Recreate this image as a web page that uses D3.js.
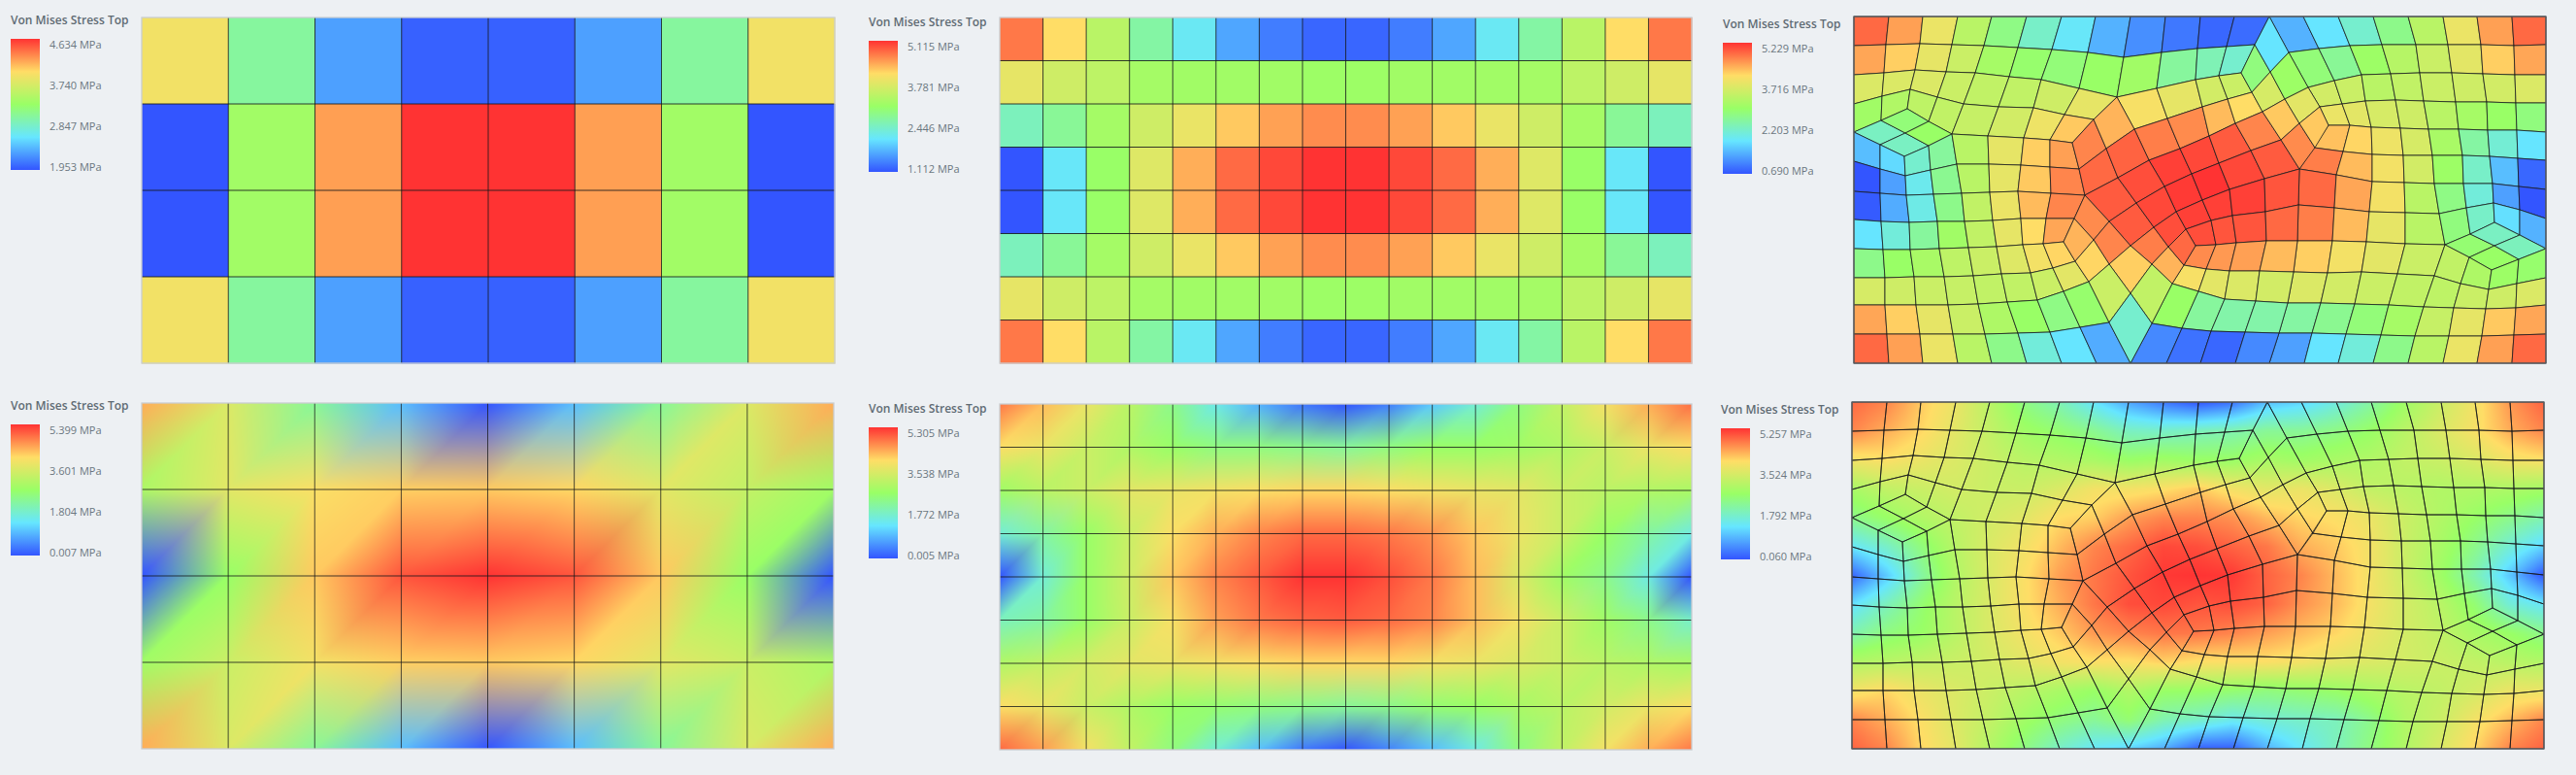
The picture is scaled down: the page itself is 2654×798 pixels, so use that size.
<!DOCTYPE html>
<html><head><meta charset="utf-8">
<script src="https://cdn.jsdelivr.net/npm/d3@7"></script>
<style>html,body{margin:0;padding:0;background:#edf0f3}svg{display:block}</style>
</head><body><div id="chart"></div>
<script>
// ---------- legend tick labels ----------
const ticks1 = ["4.634 MPa","3.740 MPa","2.847 MPa","1.953 MPa"];
const ticks2 = ["5.115 MPa","3.781 MPa","2.446 MPa","1.112 MPa"];
const ticks3 = ["5.229 MPa","3.716 MPa","2.203 MPa","0.690 MPa"];
const ticks4 = ["5.399 MPa","3.601 MPa","1.804 MPa","0.007 MPa"];
const ticks5 = ["5.305 MPa","3.538 MPa","1.772 MPa","0.005 MPa"];
const ticks6 = ["5.257 MPa","3.524 MPa","1.792 MPa","0.060 MPa"];
const legendTitle = "Von Mises Stress Top";
const rampColors = ["#3355ff","#66e6ff","#99ff66","#ffdd66","#ff3333"];

// ---------- panel 1: 8 x 4 element values (MPa) ----------
const cells1 = [
 [3.88,3.05,2.30,2.01,2.01,2.30,3.05,3.88],
 [1.953,3.35,4.21,4.634,4.634,4.21,3.35,1.953],
 [1.953,3.35,4.21,4.634,4.634,4.21,3.35,1.953],
 [3.88,3.05,2.30,2.01,2.01,2.30,3.05,3.88]];
// ---------- panel 2: 16 x 8 element values (MPa) ----------
const cells2 = [
 [4.71,4.11,3.43,2.71,2.19,1.67,1.39,1.23,1.23,1.39,1.67,2.19,2.71,3.43,4.11,4.71],
 [3.87,3.63,3.47,3.23,3.19,3.19,3.19,3.15,3.15,3.19,3.19,3.19,3.23,3.47,3.63,3.87],
 [2.55,2.79,3.23,3.63,3.91,4.23,4.47,4.59,4.59,4.47,4.23,3.91,3.63,3.23,2.79,2.55],
 [1.112,2.15,3.11,3.79,4.39,4.79,4.99,5.115,5.115,4.99,4.79,4.39,3.79,3.11,2.15,1.112],
 [1.112,2.15,3.11,3.79,4.39,4.79,4.99,5.115,5.115,4.99,4.79,4.39,3.79,3.11,2.15,1.112],
 [2.55,2.79,3.23,3.63,3.91,4.23,4.47,4.59,4.59,4.47,4.23,3.91,3.63,3.23,2.79,2.55],
 [3.87,3.63,3.47,3.23,3.19,3.19,3.19,3.15,3.15,3.19,3.19,3.19,3.23,3.47,3.63,3.87],
 [4.71,4.11,3.43,2.71,2.19,1.67,1.39,1.23,1.23,1.39,1.67,2.19,2.71,3.43,4.11,4.71]];
// ---------- panel 4: 9 x 5 nodal values (MPa) ----------
const nodes4 = [
 [4.43,3.57,2.27,0.98,0.007,0.98,2.27,3.57,4.43],
 [2.97,3.67,3.99,4.16,4.21,4.10,3.67,3.24,2.81],
 [0.007,2.70,4.21,5.13,5.399,5.13,4.21,2.70,0.007],
 [2.81,3.35,3.89,4.16,4.21,4.10,3.67,3.35,2.97],
 [4.43,3.57,2.27,0.98,0.007,0.98,2.27,3.57,4.43]];
// ---------- panel 5: 17 x 9 nodal values (MPa) ----------
const nodes5 = [
 [4.77,4.24,3.71,3.08,2.34,1.54,0.85,0.32,0.005,0.38,1.06,1.70,2.44,3.18,3.82,4.35,4.83],
 [3.93,3.71,3.29,2.97,2.65,2.44,2.44,2.34,2.23,2.44,2.65,2.65,2.76,2.97,3.29,3.71,3.93],
 [2.76,3.08,3.29,3.61,3.71,3.82,3.93,4.03,4.03,3.93,3.82,3.71,3.61,3.29,3.08,2.97,2.87],
 [1.70,2.12,2.65,3.29,3.93,4.35,4.67,4.88,4.88,4.77,4.56,4.14,3.71,3.29,2.65,2.12,1.59],
 [0.005,1.70,2.65,3.34,4.14,4.67,4.99,5.305,5.305,5.09,4.77,4.24,3.50,2.76,2.34,1.59,0.005],
 [1.91,2.12,2.65,3.29,3.87,4.46,4.77,4.93,4.99,4.88,4.67,4.24,3.82,3.29,2.76,2.34,1.81],
 [2.97,3.18,3.40,3.61,3.71,3.82,3.93,4.03,4.03,4.03,3.82,3.71,3.50,3.29,3.08,2.97,2.87],
 [3.93,3.71,3.29,2.97,2.65,2.55,2.44,2.34,2.23,2.34,2.55,2.65,2.87,3.08,3.40,3.71,3.93],
 [4.88,4.46,3.82,3.18,2.44,1.70,0.96,0.32,0.005,0.43,0.96,1.59,2.44,3.18,3.82,4.35,4.77]];
// ---------- panel 6: stress read on a regular 21 x 13 sampling of the plate (MPa) ----------
const field6 = [
 [4.84,4.63,4.11,3.70,3.07,2.40,1.98,1.36,0.79,0.37,0.06,0.32,1.00,1.20,1.62,2.14,2.76,3.28,3.80,4.48,4.89],
 [4.63,4.32,4.01,3.59,3.18,2.76,2.55,2.29,1.88,1.83,1.93,2.03,2.24,2.24,2.40,2.66,3.07,3.49,3.85,4.32,4.63],
 [3.80,3.91,3.70,3.49,3.28,3.07,2.97,2.87,2.66,2.76,2.66,2.66,2.87,2.76,2.87,2.97,3.18,3.28,3.49,3.80,3.91],
 [2.87,3.18,3.28,3.39,3.28,3.28,3.49,3.80,3.80,3.91,4.11,3.80,3.59,3.70,3.49,3.18,3.07,2.97,2.97,2.92,2.81],
 [2.35,2.66,2.97,3.18,3.39,3.59,3.96,4.06,4.43,4.63,4.63,4.53,4.22,4.01,3.91,3.70,3.28,2.97,2.66,2.35,2.03],
 [1.41,1.83,2.45,3.07,3.49,3.80,4.22,4.63,4.84,5.10,5.05,4.89,4.74,4.32,4.11,3.80,3.28,2.87,2.35,1.72,1.20],
 [0.22,1.10,2.14,2.97,3.49,3.91,4.43,4.74,5.00,5.21,5.257,5.21,4.89,4.63,4.22,3.80,3.28,2.76,2.03,1.10,0.06],
 [1.31,1.93,2.55,3.07,3.49,3.91,4.32,4.74,5.05,5.10,5.00,5.05,4.89,4.53,4.22,3.80,3.39,3.07,2.55,1.72,1.41],
 [2.03,2.45,2.66,3.07,3.49,3.80,4.11,4.48,4.63,4.74,4.74,4.63,4.43,4.22,4.01,3.70,3.39,3.18,2.87,2.66,2.35],
 [2.97,3.07,3.18,3.28,3.39,3.59,3.80,3.91,3.91,4.06,3.91,3.91,3.91,3.80,3.59,3.49,3.39,3.28,3.18,3.07,2.97],
 [3.80,4.01,3.70,3.49,3.28,3.07,2.87,2.66,2.97,2.66,2.66,2.55,2.45,2.55,2.66,2.87,3.07,3.18,3.39,3.70,3.70],
 [4.63,4.32,3.91,3.49,3.18,2.76,2.45,2.24,2.55,2.03,1.83,1.52,1.72,1.83,1.93,2.35,2.97,3.28,3.80,4.22,4.63],
 [4.89,4.63,4.01,3.59,2.97,2.40,1.83,1.41,1.20,0.84,0.16,0.16,0.89,1.41,1.93,2.45,2.97,3.49,4.01,4.63,4.89]];

// ---------- irregular mesh (panels 3 and 6): structured patches of plate nodes, plate size 713 x 357 ----------
const plateSize = [713,357];
const patchA = [
 [[0,0],[36,0],[71,0],[107,0],[142,0],[178,0],[214,0],[249,0],[285,0],[321,0],[357,0],[392,0],[428,0]],
 [[0,30],[33,29],[68,28],[101,29],[134,30],[169,32],[204,34],[241,37],[278,42],[317,37],[354,33],[384,31],[413,29]],
 [[0,60],[31,58],[63,55],[95,57],[125,58],[160,62],[193,65],[232,74],[271,83],[312,74],[352,65],[376,61],[399,58]]];
const stressA = [
 [4.87,4.50,3.87,3.32,2.73,2.23,1.87,1.42,1.14,0.96,0.83,0.87],
 [4.46,4.19,3.82,3.50,3.10,2.91,2.82,2.96,3.05,2.55,2.37,2.19]];
const patchB = [
 [[428,0],[463,0],[499,0],[535,0],[571,0],[607,0],[642,0],[678,0],[713,0]],
 [[448,37],[479,33],[511,30],[544,29],[579,29],[612,29],[646,29],[680,30],[713,29]],
 [[468,73],[495,66],[523,60],[553,59],[583,58],[616,58],[648,59],[681,60],[713,60]],
 [[480,93],[503,90],[527,87],[558,86],[587,87],[620,88],[652,88],[682,89],[713,89]],
 [[489,112],[511,112],[533,114],[563,115],[592,116],[623,116],[653,117],[683,117],[713,119]],
 [[474,135],[504,139],[534,142],[566,143],[596,143],[627,143],[655,144],[684,146],[713,148]],
 [[459,157],[497,163],[534,170],[567,171],[598,172],[628,172],[658,172],[685,175],[713,178]],
 [[458,194],[495,197],[531,201],[568,202],[603,203],[631,197],[659,192],[686,199],[713,208]],
 [[457,231],[493,231],[528,232],[568,234],[609,235],[635,224],[660,212],[686,225],[713,239]]];
const stressB = [
 [1.42,1.82,2.19,2.69,3.32,3.87,4.50,4.87],
 [2.82,2.60,3.00,3.28,3.50,3.78,4.19,4.46],
 [3.59,3.50,3.32,3.41,3.50,3.55,3.59,3.69],
 [3.87,3.78,3.64,3.55,3.32,3.10,2.96,2.78],
 [4.28,4.14,3.91,3.64,3.14,2.51,2.14,1.82],
 [4.73,4.32,3.96,3.59,3.00,2.23,1.51,0.83],
 [4.87,4.46,3.96,3.32,2.73,2.10,1.28,0.69],
 [4.73,4.32,3.82,3.32,2.78,2.23,1.78,1.42]];
const patchRightDiamond = [
 [[609,235],[635,224],[660,212]],
 [[634,248],[660,236],[686,225]],
 [[657,261],[685,250],[713,239]]];
const stressRightDiamond = [[2.87,2.28],[2.96,2.32]];
const patchLowerRight = [
 [[457,231],[493,231],[528,232],[568,234],[609,235],[634,248],[657,261],[685,250],[713,239]],
 [[453,263],[488,264],[523,263],[560,265],[598,267],[625,275],[654,281],[683,275],[713,269]],
 [[447,295],[481,295],[516,296],[551,297],[587,299],[618,300],[651,301],[682,300],[713,297]],
 [[438,326],[472,326],[507,327],[543,328],[578,329],[613,329],[647,329],[680,328],[713,327]],
 [[428,357],[464,357],[499,357],[535,357],[571,357],[607,357],[642,357],[678,357],[713,357]]];
const stressLowerRight = [
 [4.19,3.96,3.78,3.50,3.41,3.19,3.00,2.91],
 [3.69,3.59,3.50,3.41,3.37,3.50,3.55,3.69],
 [2.51,2.64,2.82,3.10,3.46,3.82,4.23,4.46],
 [1.28,1.82,2.10,2.69,3.32,3.87,4.50,4.87]];
const patchC = [
 [[271,83],[312,74],[352,65],[376,61],[399,58]],
 [[289,116],[323,105],[359,93],[385,85],[410,78]],
 [[304,148],[336,136],[366,123],[393,110],[421,98]],
 [[320,175],[348,162],[376,151],[409,138],[440,127]],
 [[332,201],[359,189],[387,178],[423,167],[459,157]],
 [[342,219],[368,210],[390,205],[424,201],[458,194]],
 [[352,236],[373,235],[394,233],[425,231],[457,231]],
 [[340,256],[363,260],[387,262],[418,262],[453,263]],
 [[328,275],[355,283],[382,291],[414,293],[447,295]],
 [[307,316],[338,321],[368,324],[403,325],[438,326]],
 [[285,357],[322,357],[357,357],[393,357],[428,357]]];
const stressC = [
 [4.00,3.82,3.59,3.50],
 [4.73,4.64,4.32,4.09],
 [5.14,5.09,4.96,4.68],
 [5.18,5.229,5.09,4.96],
 [5.14,5.14,5.14,5.00],
 [5.05,5.00,5.00,4.87],
 [4.64,4.55,4.50,4.32],
 [4.00,3.78,3.69,3.59],
 [2.96,2.55,2.46,2.46],
 [1.10,0.92,0.83,1.10]];
const patchD = [
 [[399,58],[410,78],[421,98],[440,127],[459,157]],
 [[413,29],[429,57],[444,85],[459,110],[475,135]],
 [[428,0],[448,37],[468,73],[480,93],[489,112]]];
const stressD = [[2.78,3.64,4.23,4.64],[1.82,3.00,3.78,4.23]];
const patchE = [
 [[0,60],[31,58],[63,55],[95,57],[125,58],[160,62],[193,65],[232,74],[271,83]],
 [[0,90],[29,82],[58,75],[86,83],[113,90],[149,93],[185,94],[217,101],[247,106]],
 [[0,119],[28,107],[55,95],[77,108],[101,121],[138,123],[175,125],[202,127],[225,130]]];
const stressE = [
 [3.69,3.69,3.69,3.50,3.41,3.41,3.55,3.82],
 [3.05,3.23,3.37,3.41,3.46,3.59,3.91,4.23]];
const patchLeftDiamond = [
 [[0,119],[28,107],[55,95]],
 [[27,132],[53,120],[77,108]],
 [[52,144],[77,133],[101,121]]];
const stressLeftDiamond = [[2.28,2.82],[2.28,2.96]];
const patchF = [
 [[0,119],[27,132],[52,144],[77,133],[101,121],[138,123],[175,125],[202,127],[225,130]],
 [[0,149],[27,157],[53,164],[79,158],[106,152],[139,152],[172,153],[202,155],[232,157]],
 [[0,180],[27,182],[54,184],[82,183],[111,182],[140,181],[169,180],[203,182],[238,184]],
 [[0,209],[28,211],[57,212],[86,211],[114,211],[143,210],[172,208],[198,208],[227,208]],
 [[0,239],[30,240],[58,240],[88,239],[118,238],[147,237],[174,235],[195,234],[216,232]],
 [[0,269],[32,269],[62,268],[93,268],[123,267],[152,265],[182,264],[205,259],[228,252]],
 [[0,297],[32,297],[64,297],[97,297],[128,296],[158,294],[189,292],[216,283],[242,273]],
 [[0,327],[34,327],[68,327],[102,327],[135,327],[169,326],[202,325],[233,320],[263,315]],
 [[0,357],[36,357],[71,357],[107,357],[142,357],[178,357],[214,357],[250,357],[285,357]]];
const stressF = [
 [1.51,1.73,2.19,2.55,3.32,3.82,4.19,4.50],
 [0.69,1.28,1.96,2.64,3.32,3.82,4.23,4.68],
 [0.74,1.37,2.01,2.69,3.41,3.87,4.32,4.68],
 [1.82,2.10,2.55,3.05,3.41,3.82,4.09,4.46],
 [2.69,2.96,3.14,3.37,3.50,3.73,3.96,4.14],
 [3.64,3.55,3.50,3.46,3.41,3.41,3.50,3.78],
 [4.46,4.19,3.82,3.50,3.19,2.96,2.73,2.91],
 [4.87,4.50,3.87,3.32,2.69,2.10,1.82,1.37]];
const patchG = [
 [[225,130],[247,106],[271,83]],
 [[232,157],[260,136],[289,116]],
 [[238,184],[272,166],[304,148]],
 [[263,211],[291,192],[320,175]],
 [[285,236],[309,217],[332,201]],
 [[307,255],[324,237],[342,219]],
 [[328,275],[340,256],[352,236]]];
const stressG = [[4.68,4.37],[4.87,4.91],[4.96,5.05],[4.96,5.09],[4.73,5.05],[4.37,4.87]];
const patchH = [
 [[238,184],[263,211],[285,236],[307,255],[328,275]],
 [[227,208],[247,230],[263,255],[285,285],[307,316]],
 [[216,232],[228,252],[242,273],[263,315],[285,357]]];
const stressH = [[4.64,4.68,4.19,3.41],[4.37,4.14,3.50,2.19]];

const meshPatches = [patchA,patchB,patchRightDiamond,patchLowerRight,patchC,patchD,patchE,patchLeftDiamond,patchF,patchG,patchH];
const meshStress  = [stressA,stressB,stressRightDiamond,stressLowerRight,stressC,stressD,stressE,stressLeftDiamond,stressF,stressG,stressH];

// ---------- layout ----------
const W = 2654, H = 798;
const svg = d3.select("#chart").append("svg").attr("width",W).attr("height",H)
  .style("font-family","'Open Sans',sans-serif");
svg.append("rect").attr("width",W).attr("height",H).attr("fill","#edf0f3");

const panels = [
 {ticks:ticks1,kind:"cells",data:cells1,lx:11, ty:21, ly:40, x:146, y:18, w:714,h:356,range:[1.953,4.634],frame:"#c9cdd0"},
 {ticks:ticks2,kind:"cells",data:cells2,lx:895,ty:23, ly:42, x:1030,y:18, w:713,h:356,range:[1.112,5.115],frame:"#c9cdd0"},
 {ticks:ticks3,kind:"mesh", data:null,  lx:1775,ty:25,ly:44, x:1910,y:17, w:713,h:357,range:[0.690,5.229],frame:"#5a5f63"},
 {ticks:ticks4,kind:"grid", data:nodes4,lx:11, ty:418,ly:437,x:146, y:415,w:713,h:356,range:[0.007,5.399],frame:"#c9cdd0"},
 {ticks:ticks5,kind:"grid", data:nodes5,lx:895,ty:421,ly:440,x:1030,y:416,w:713,h:356,range:[0.005,5.305],frame:"#c9cdd0"},
 {ticks:ticks6,kind:"smooth",data:field6,lx:1773,ty:422,ly:441,x:1908,y:414,w:713,h:357,range:[0.060,5.257],frame:"#5a5f63"}
];

const defs = svg.append("defs");
const grad = defs.append("linearGradient").attr("id","ramp").attr("x1",0).attr("y1",1).attr("x2",0).attr("y2",0);
rampColors.forEach((c,i)=>grad.append("stop").attr("offset",i/(rampColors.length-1)).attr("stop-color",c));

const lineColor = "#15181a";

function rasterTriangles(ctxW,ctxH,tris){
  const cv = document.createElement("canvas"); cv.width=ctxW; cv.height=ctxH;
  const ctx = cv.getContext("2d");
  const img = ctx.createImageData(ctxW,ctxH);
  tris.forEach(([a,b,c])=>{
    const x0=Math.max(0,Math.floor(Math.min(a.x,b.x,c.x))),x1=Math.min(ctxW-1,Math.ceil(Math.max(a.x,b.x,c.x)));
    const y0=Math.max(0,Math.floor(Math.min(a.y,b.y,c.y))),y1=Math.min(ctxH-1,Math.ceil(Math.max(a.y,b.y,c.y)));
    const den=(b.y-c.y)*(a.x-c.x)+(c.x-b.x)*(a.y-c.y);
    for(let y=y0;y<=y1;y++)for(let x=x0;x<=x1;x++){
      const px=x+.5,py=y+.5;
      const l1=((b.y-c.y)*(px-c.x)+(c.x-b.x)*(py-c.y))/den;
      const l2=((c.y-a.y)*(px-c.x)+(a.x-c.x)*(py-c.y))/den;
      const l3=1-l1-l2;
      if(l1<-1e-6||l2<-1e-6||l3<-1e-6)continue;
      const k=(y*ctxW+x)*4;
      img.data[k]=l1*a.c.r+l2*b.c.r+l3*c.c.r;
      img.data[k+1]=l1*a.c.g+l2*b.c.g+l3*c.c.g;
      img.data[k+2]=l1*a.c.b+l2*b.c.b+l3*c.c.b;
      img.data[k+3]=255;
    }
  });
  ctx.putImageData(img,0,0);
  return cv.toDataURL();
}

panels.forEach(p=>{
  const [lo,hi] = p.range;
  const color = d3.scaleLinear()
    .domain(rampColors.map((_,i)=>lo+(hi-lo)*i/(rampColors.length-1)))
    .range(rampColors).interpolate(d3.interpolateRgb).clamp(true);

  // legend
  svg.append("text").attr("x",p.lx).attr("y",p.ty).attr("dy","0.35em")
    .attr("font-size",12).attr("font-weight",600).attr("fill","#5f6b73").text(legendTitle);
  svg.append("rect").attr("x",p.lx).attr("y",p.ly).attr("width",30).attr("height",135).attr("fill","url(#ramp)");
  const axisY = d3.scalePoint().domain(p.ticks).range([p.ly+6,p.ly+132]);
  svg.selectAll(null).data(p.ticks).enter().append("text")
    .attr("x",p.lx+40).attr("y",d=>axisY(d)).attr("dy","0.35em")
    .attr("font-size",11).attr("fill","#6b7780").text(d=>d);

  const g = svg.append("g").attr("transform",`translate(${p.x},${p.y})`);

  if(p.kind==="cells"){
    const xs=d3.scaleBand().domain(d3.range(p.data[0].length)).range([0,p.w]);
    const ys=d3.scaleBand().domain(d3.range(p.data.length)).range([0,p.h]);
    p.data.forEach((row,r)=>row.forEach((v,c)=>{
      g.append("rect").attr("x",xs(c)).attr("y",ys(r)).attr("width",xs.bandwidth()+.5).attr("height",ys.bandwidth()+.5).attr("fill",color(v));
    }));
    d3.range(1,p.data[0].length).forEach(c=>g.append("line").attr("x1",xs(c)).attr("x2",xs(c)).attr("y1",0).attr("y2",p.h).attr("stroke",lineColor).attr("stroke-opacity",.8));
    d3.range(1,p.data.length).forEach(r=>g.append("line").attr("y1",ys(r)).attr("y2",ys(r)).attr("x1",0).attr("x2",p.w).attr("stroke",lineColor).attr("stroke-opacity",.85));
  }

  if(p.kind==="grid"){
    const xs=d3.scaleLinear().domain([0,p.data[0].length-1]).range([0,p.w]);
    const ys=d3.scaleLinear().domain([0,p.data.length-1]).range([0,p.h]);
    const node=(r,c)=>({x:xs(c),y:ys(r),c:d3.rgb(color(p.data[r][c]))});
    const tris=[];
    d3.range(p.data.length-1).forEach(r=>d3.range(p.data[0].length-1).forEach(c=>{
      tris.push([node(r,c),node(r+1,c),node(r,c+1)]);
      tris.push([node(r,c+1),node(r+1,c),node(r+1,c+1)]);
    }));
    g.append("image").attr("width",p.w).attr("height",p.h).attr("href",rasterTriangles(p.w,p.h,tris));
    d3.range(1,p.data[0].length-1).forEach(c=>g.append("line").attr("x1",xs(c)).attr("x2",xs(c)).attr("y1",0).attr("y2",p.h).attr("stroke",lineColor).attr("stroke-opacity",.75));
    d3.range(1,p.data.length-1).forEach(r=>g.append("line").attr("y1",ys(r)).attr("y2",ys(r)).attr("x1",0).attr("x2",p.w).attr("stroke",lineColor).attr("stroke-opacity",.8));
  }

  const xp=d3.scaleLinear().domain([0,plateSize[0]]).range([0,p.w]);
  const yp=d3.scaleLinear().domain([0,plateSize[1]]).range([0,p.h]);
  const pts=q=>q.map(n=>xp(n[0])+","+yp(n[1])).join(" ");

  if(p.kind==="smooth"){
    const xf=d3.scaleLinear().domain([0,p.w]).range([0,p.data[0].length-1]);
    const yf=d3.scaleLinear().domain([0,p.h]).range([0,p.data.length-1]);
    const cv=document.createElement("canvas");cv.width=p.w;cv.height=p.h;
    const ctx=cv.getContext("2d");const img=ctx.createImageData(p.w,p.h);
    for(let y=0;y<p.h;y++)for(let x=0;x<p.w;x++){
      const fx=xf(x+.5),fy=yf(y+.5);
      const i=Math.min(Math.floor(fx),p.data[0].length-2),j=Math.min(Math.floor(fy),p.data.length-2);
      const s=fx-i,t=fy-j;
      const v=(1-t)*((1-s)*p.data[j][i]+s*p.data[j][i+1])+t*((1-s)*p.data[j+1][i]+s*p.data[j+1][i+1]);
      const c=d3.rgb(color(v));const k=(y*p.w+x)*4;
      img.data[k]=c.r;img.data[k+1]=c.g;img.data[k+2]=c.b;img.data[k+3]=255;
    }
    ctx.putImageData(img,0,0);
    g.append("image").attr("width",p.w).attr("height",p.h).attr("href",cv.toDataURL());
  }

  if(p.kind==="mesh"||p.kind==="smooth"){
    meshPatches.forEach((patch,pi)=>{
      d3.range(patch.length-1).forEach(r=>d3.range(patch[0].length-1).forEach(c=>{
        const quad=[patch[r][c],patch[r][c+1],patch[r+1][c+1],patch[r+1][c]];
        g.append("polygon").attr("points",pts(quad))
          .attr("fill",p.kind==="mesh"?color(meshStress[pi][r][c]):"none")
          .attr("stroke",lineColor).attr("stroke-width",.9).attr("stroke-opacity",.85).attr("stroke-linejoin","round");
      }));
    });
  }

  g.append("rect").attr("width",p.w).attr("height",p.h).attr("fill","none").attr("stroke",p.frame).attr("stroke-width",1.3);
});
</script></body></html>
